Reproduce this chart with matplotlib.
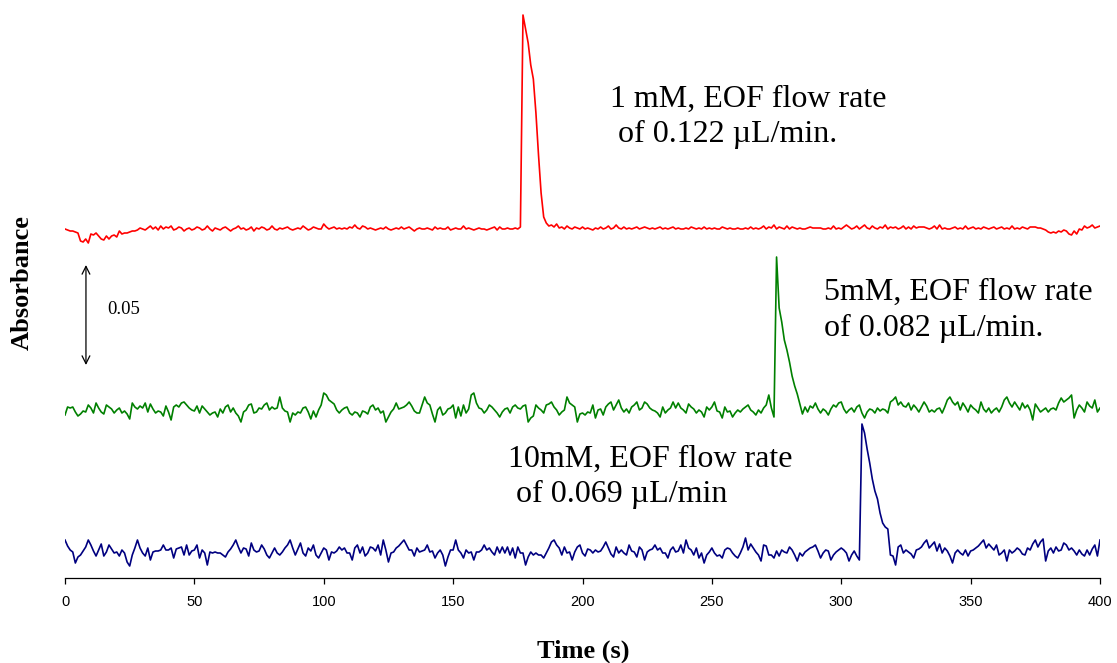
import numpy as np
import matplotlib
matplotlib.use("Agg")
import matplotlib.pyplot as plt

# time axis: one reading per second, 0..400 s
time_s = np.arange(0, 401)

# trace readings in mAU, relative to each trace's own baseline
red_mau = [
    0, -0.5, -1, -1, -1.5, -2, -6, -6.5, -5, -7,
    -2.5, -3, -2, -3.5, -5, -5.5, -3.5, -5, -3.5, -3,
    -4, -1, -2.5, -2, -2, -1.5, -1, -1, -0.5, 0.5,
    0, -0.5, 0.5, 1.5, 0, 1, -0.5, 1.5, 0, 1,
    0.5, 1.5, -0.5, 0, 1, 0.5, -1, 0, 0.5, -0.5,
    0, 1, 0.5, -0.5, 0, 1.5, 0, -1, 0.5, 0,
    -0.5, 0.5, 1, 0, -1, 0, 0.5, 1.5, 0, 0.5,
    -0.5, 0, 1, -1, 0.5, 0, 1, 0.5, -0.5, 0,
    1.5, 0, -0.5, 0.5, 0, 0.5, 1, 0, -0.5, 0,
    0.5, 0, 1.5, 0.5, -0.5, 0, 1, 0.5, 0, 0,
    2.5, 1, 0, 0.5, 1, 0, 0.5, 0, 0.5, 0,
    1, 0.5, 2, 0.5, 0, 1.5, 1, 0, 0.5, 0,
    -0.5, 0, 0.5, 0, 1, 0, -0.5, 0, 0.5, 0,
    1, 0, 0.5, 1, 0, -1, 0, 0.5, 0, 0,
    0.5, 0, -0.5, 1, 0, 0.5, 0, 0, 1, -0.5,
    0, 0.5, 0, 0, 1.5, 0, 0.5, 0, -0.5, 0,
    0.5, 0, 0, -0.5, 0, 0.5, 1, -0.5, 1, 0,
    0, 0.5, 0, 0, 0.5, 0, 1, 107, 100, 93,
    82, 75, 58, 37, 18, 6, 3, 1.5, 2, 1,
    2.5, 0.5, 1, 0, 1.5, 0.5, 0, 1, 0.5, 0,
    1, 0, 0.5, 0, -0.5, 0.5, 0, 1, 0, 0.5,
    1.5, 0, 0.5, 2, 0.5, 0, 1, 0, 0.5, 0,
    0.5, 1, 0, 0.5, 1, 0.5, 0, 0.5, 0, 0.5,
    1, 0, 0.5, 0, 0.5, 1, 0, 0.5, 0, 0,
    0.5, 0, 1, 0.5, 0, 0.5, 0, 1, 0, 0.5,
    0, 0.5, 0, 0, 1, 0.5, 0, 0.5, 0, 0,
    0.5, 0, 0, 0.5, 0, 1, 0, 0.5, 0, 0.5,
    1.5, 0, 1, 0.5, 2, 0, 1, 0.5, 0, 1.5,
    0, 1, 0.5, 0, 0.5, 0, 0, 0.5, 1, 0.5,
    0.5, 0.5, 0.5, 0, 0, 0.5, 0, 1.5, 0, 0.5,
    0, 1, 2, 1, 0, 0.5, 1.5, 0, 1, 2,
    0.5, 0, 1.5, 0.5, 0, 1, 0.5, 2, 0, 1,
    0.5, 1, 0, 0.5, 1.5, 0, 1, 0, 1.5, 0.5,
    1, 1, 1, 0.5, 0, 0.5, 1.5, 0, 2, 0,
    0.5, 0, 0, 0.5, 1, 0, 0.5, 0, 1.5, 0,
    0.5, 1, 0, 0.5, 0, 1, 0.5, 0, 0.5, 1,
    0, 0.5, 1, 0, 0.5, 0, 1.5, 0, 0.5, 0,
    1, 0.5, 0, 1, 1, 1, 0.5, 0.5, 0, -0.5,
    -1.5, -2, -1.5, -2, -1, -1.5, -0.5, -1, -2.5, -3,
    -1, -2.5, 0, -0.5, 1.5, 0.5, 1, 2, 0.5, 1,
    1.5,
]

green_mau = [
    -2.5, 1.5, 1, 1.5, -1, -3, -2, -0.5, -1, 2.5,
    1, -1.5, 3.5, 1, -1, -2, 2.5, 1.5, 0.5, -1.5,
    0, 1, -1.5, -0.5, -2, -4.5, 3.5, 1.5, 0.5, 2,
    1, 3.5, -1, 3, 0.5, -1.5, -0.5, -1, -3, 2,
    -1, -5, 1.5, 2.5, 1.5, 3.5, 4, 2.5, 1, 0,
    -0.5, 2, -1.5, 2, 0.5, -1, -2.5, -1.5, -1, -3.5,
    0.5, -1.5, 1.5, 2.5, -1, 1, -1.5, -3, -6, -1,
    0, 2.5, 3, -1.5, -1, 1, 0.5, 2.5, 3.5, 0,
    1.5, 0.5, 1, 6.5, 1, -0.5, -1, -6, -1.5, -2.5,
    -1, -1.5, 1, 1.5, -1, -4.5, -0.5, -3.5, 0, 2.5,
    8.5, 7.5, 5, 4, 3, 0, -1.5, 0, 1, 1.5,
    -1.5, -2.5, -1, -1.5, -3.5, -0.5, -1, -2, 1.5, 2.5,
    0, 1, -1.5, -0.5, -6, -3.5, -1, 0.5, 3.5, 0.5,
    1, 1.5, 2.5, 4, 2, -0.5, -1.5, -1.5, 2.5, 6.5,
    3.5, 2.5, -2, -6, 0, 1.5, -2.5, -1.5, 0.5, 1,
    2.5, -4, 1.5, -3, 2.5, -1.5, 0.5, 7.5, 8.5, 3.5,
    1, 0.5, -1.5, 0, 2.5, 1.5, 0, -1.5, -3.5, -1,
    0.5, 1, -1.5, 1.5, 2.5, 1, 0.5, 2, 2.5, -6,
    -4, -3, 2.5, 1, 0, -1.5, 2.5, 3, 4, 1.5,
    0, -2.5, -1, 0, 6.5, 3.5, 2.5, 1.5, -6, -2,
    -1.5, -2.5, -1, -1.5, 2.5, -4, 0, 0.5, -2.5, 1.5,
    3, 4, 0, 2.5, 5, 1, -1, 0.5, -1.5, 1.5,
    2.5, 4, 0, 1, 4, 3, 1, 0, -0.5, -1.5,
    -3.5, 1.5, -1.5, 0, 1, 4, 1, 3.5, 1, 0,
    -1.5, 3, 1.5, 0.5, -1.5, 0, -1, -3.5, 1.5, 0,
    1.5, 4, -0.5, -1, -4, 1.5, -1, -0.5, -3.5, -1.5,
    0, -1, 0.5, 1.5, 2.5, 0, -1, -2.5, 0, -1.5,
    1, 2.5, 7.5, 1, -3.5, 76.5, 51, 44, 35, 30,
    24, 17, 12, 8, 3, -2, 1.5, -1, 2, 1,
    3.5, 0.5, -1.5, 0.5, -0.5, -2.5, 0.5, 2.5, 1.5, 3.5,
    4, 0.5, -1.5, 0, 1, -1, 1.5, 2.5, -1.5, -4,
    -1, 0.5, 0, -1.5, 1, -0.5, 0.5, 0, -1.5, 4,
    5, 6.5, 2.5, 4, 2, 1.5, 3.5, 0, 2.5, 1,
    -1, 1.5, 4, 2, -1, 0, -1, 0.5, 1, -1.5,
    1.5, 5, 6.5, 4, 2.5, 4, 0, 3.5, 1.5, -1,
    2.5, 1, 0, -1.5, 4, 0.5, -1, 1, -1.5, 0,
    1, -1, 1.5, 5, 6.5, 3.5, 1.5, 4, 2, 0,
    3.5, 1, 2.5, 0, -5, 3, 1, -1, 0, 1,
    -1, 0.5, 1, 0, 3.5, 6, 4, 5, 6, 7.5,
    -4, 0, 2.5, 1, -1, 4, 2, 1, 5, -1,
    1,
]

blue_mau = [
    5.5, 2.5, 0.5, -0.5, -6, -3, -2, 0, 2, 5.5,
    3, 0, -2.5, 0.5, 3.5, -2.5, -0.5, 3, 1, -1,
    -0.5, -2.5, 0.5, -1, -5.5, -7.5, -2, 1.5, 5.5, 1.5,
    -1, -2.5, 1.5, -4.5, -0.5, 0, 0, 0.5, 3, 0.5,
    0.5, 1.5, -3.5, 1, 1.5, 2, -2, 3, -2, 0,
    0.5, 3, -3.5, 0.5, -1, -7, -0.5, -1, -0.5, -1,
    -1, -2, -3, -0.5, 1, 3, 5.5, 2, -1, 1.5,
    1, -2.5, 4, 0.5, -0.5, 0, 3, 1, -2, -3.5,
    -1, 1.5, -1, -2, -0.5, 1.5, 3, 5.5, 1.5, -2,
    1, 4, -1, -2.5, 1.5, 0, 3, -2, -3.5, -1,
    1.5, 0.5, -4.5, -0.5, -1, 0, 2, 0.5, 1.5, -1,
    -1, -4.5, 1.5, 3, -1, 2, -2.5, -1, 2, 1.5,
    0, 3, -2, 5.5, 0.5, -5.5, -1, -0.5, 1.5, 2.5,
    4, 5.5, 3, 0.5, 0.5, -2.5, 1.5, -0.5, 0, 0.5,
    3, -0.5, 0, -3.5, -1, 0.5, -2, -7.5, -3, 0.5,
    0.5, 5.5, 0.5, -1, -3.5, 0.5, -1, -0.5, -4.5, -0.5,
    -0.5, 0.5, 3, 0.5, 1.5, -0.5, -2, 2, -1, 2,
    -1, 2, -2, 1.5, -3.5, 2, -1, -1, -7, -3,
    -0.5, -2, -1, -2, -2, -3.5, -1, 1.5, 4.5, 5.5,
    3, 1.5, -2, 2, -1, -0.5, -4.5, -0.5, 2, 3,
    -1, -2.5, 1, 0.5, -1, 0.5, -0.5, 0, 2, 4.5,
    1.5, -1.5, -3, 2, -1, 0.5, -1, -2, 3, 0,
    -0.5, -3, 2, 0.5, -4.5, -0.5, 0.5, 1, 3, 0.5,
    1.5, -1, -1, -3.5, 0.5, 2, -0.5, 0, 3, -1,
    5.5, 1.5, 0.5, -2, 1.5, -3.5, -1, -6, -2, -0.5,
    1.5, -1, -2.5, -2, -3.5, 0.5, 1.5, 1, -1, -2.5,
    -3.5, -1, 2, 6.5, 0.5, 3.5, 1.5, -0.5, -2, -5,
    3, 2.5, -2, -2, -3.5, 0, -2.5, 0.5, -0.5, -1,
    2, 0.5, -2, -5, -1, -2.5, -0.5, 0.5, 1.5, 2,
    3, 0, -3.5, -1, 0.5, 0, -4.5, -2, -0.5, 0.5,
    1.5, 0.5, -1, -5, -2, 0, -2.5, -4.5, 63.5, 59,
    51, 44, 36, 30, 26, 19, 14, 12, 11, -2,
    -2.5, -7, 2, 3, -1, 0.5, -0.5, -1.5, -3.5, 0.5,
    1, 2, 4, 5.5, 1.5, 3, 4.5, 0, 3.5, -1,
    1.5, 0, -2.5, -6, -1, 0.5, -1, -2, 0.5, -2.5,
    0, 0.5, 1.5, 2.5, 4, 5.5, 1.5, 3.5, 2, 0.5,
    3, -2, -1, 0.5, -5, 0.5, -1, 0, 1.5, 0.5,
    -1.5, -2, 1.5, 0.5, 3.5, 5.5, 2, 4.5, 6, -5,
    0, 1.5, -1, 2, 0, 0.5, 4, 3, 0.5, 1.5,
    0, -2, 0.5, -1.5, -2.5, 0.5, -2, 1, 3, -2.5,
    5.5,
]

# vertical offsets of the stacked traces (mAU)
red_offset = 174.5
green_offset = 84
blue_offset = 13.5

labels = [
    ("1 mM, EOF flow rate", " of 0.122 \u00b5L/min."),
    ("5mM, EOF flow rate", "of 0.082 \u00b5L/min."),
    ("10mM, EOF flow rate", " of 0.069 \u00b5L/min"),
]
label_pos = [(210.6, 235.6, 218.2), (293.3, 139, 121), (171.2, 55.5, 38)]

serif = "Liberation Serif"

fig = plt.figure(figsize=(11.17, 6.63), dpi=100)
ax = fig.add_axes([65 / 1117, 85 / 663, 1035 / 1117, 573 / 663])

ax.plot(time_s, np.array(red_mau) + red_offset, color="#ff0000", lw=1.2)
ax.plot(time_s, np.array(green_mau) + green_offset, color="#008000", lw=1.2)
ax.plot(time_s, np.array(blue_mau) + blue_offset, color="#000080", lw=1.2)

for (l1, l2), (tx, y1, y2) in zip(labels, label_pos):
    ax.text(tx, y1, l1, family=serif, fontsize=23, va="baseline", ha="left")
    ax.text(tx, y2, l2, family=serif, fontsize=23, va="baseline", ha="left")

# 0.05 AU scale bar
ax.annotate("", xy=(8.1, 156.5), xytext=(8.1, 106.5),
            arrowprops=dict(arrowstyle="<->", lw=0.9, color="black",
                            shrinkA=0, shrinkB=0, mutation_scale=14))
ax.text(16.3, 134, "0.05", family=serif, fontsize=13.5, va="center", ha="left")

ax.set_xlim(0, 400)
ax.set_ylim(0, 286.5)
ax.set_xticks(np.arange(0, 401, 50))
ax.set_yticks([])
for s in ["left", "right", "top"]:
    ax.spines[s].set_visible(False)
ax.spines["bottom"].set_linewidth(0.9)
ax.tick_params(axis="x", direction="out", length=4, width=0.9, pad=8,
               labelsize=10.5)
for lab in ax.get_xticklabels():
    lab.set_family("Liberation Sans")

fig.text(583.5 / 1117, (663 - 651) / 663, "Time (s)", family=serif,
         fontsize=19, fontweight="bold", ha="center", va="center")
fig.text(22 / 1117, (663 - 283) / 663, "Absorbance", family=serif,
         fontsize=19, fontweight="bold", rotation=90, ha="center", va="center")

fig.savefig("out.png", dpi=100)
